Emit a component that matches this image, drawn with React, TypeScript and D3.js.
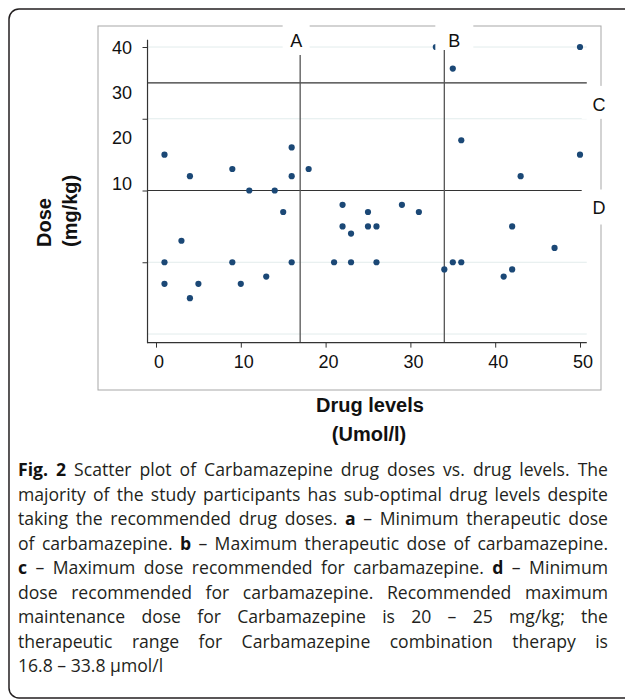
import React, { useEffect, useRef } from 'react';
import * as d3 from 'd3';

// drug level (Umol/l) and dose for every participant
const drugLevels = [1, 4, 9, 11, 14, 16, 16, 18, 33, 50, 35, 36, 50, 43, 15, 3, 1, 9, 16, 21, 1, 5, 10, 13, 4, 22, 22, 23, 23, 25, 25, 26, 29, 31, 26, 34, 35, 36, 42, 47, 41, 42];
const doses = [25, 22, 23, 20, 20, 26, 22, 23, 40, 40, 37, 27, 25, 22, 17, 13, 10, 10, 10, 10, 7, 7, 7, 8, 5, 18, 15, 14, 10, 17, 15, 15, 18, 17, 10, 9, 10, 10, 15, 12, 8, 9];

const xTicks = [0, 10, 20, 30, 40, 50];
const yTicks = [10, 20, 30, 40];
const gridValues = [0, 10, 30, 40];
const yTickLabels = [40, 30, 20, 10];

const vLines = [
  { label: 'A', value: 17 },
  { label: 'B', value: 34 },
];
const hLines = [
  { label: 'C', value: 35 },
  { label: 'D', value: 20 },
];

const captionLines: [string, boolean][][] = [
  [['Fig. 2', true], [' Scatter plot of Carbamazepine drug doses vs. drug levels. The', false]],
  [['majority of the study participants has sub-optimal drug levels despite', false]],
  [['taking the recommended drug doses. ', false], ['a', true], [' – Minimum therapeutic dose', false]],
  [['of carbamazepine. ', false], ['b', true], [' – Maximum therapeutic dose of carbamazepine.', false]],
  [['c', true], [' – Maximum dose recommended for carbamazepine. ', false], ['d', true], [' – Minimum', false]],
  [['dose recommended for carbamazepine. Recommended maximum', false]],
  [['maintenance dose for Carbamazepine is 20 – 25 mg/kg; the', false]],
  [['therapeutic range for Carbamazepine combination therapy is', false]],
  [['16.8 – 33.8 µmol/l', false]],
];

const W = 625;
const H = 699;

const App: React.FC = () => {
  const ref = useRef<SVGSVGElement | null>(null);

  useEffect(() => {
    if (!ref.current) return;
    const svg = d3.select(ref.current);
    svg.selectAll('*').remove();

    const font = '"Liberation Sans", Arial, Helvetica, sans-serif';
    const x = d3.scaleLinear().domain([0, 50]).range([156, 580]);
    const y = d3.scaleLinear().domain([0, 40]).range([334, 47]);
    // the printed y labels do not sit on the ticks in the original figure
    const yLab = d3.scaleLinear().domain([10, 40]).range([183, 47]);

    const x0 = x(-1);
    const x1 = x(50.8);
    const yBottom = y(-1.2);
    const yTop = y(41);

    svg.append('rect').attr('width', W).attr('height', H).attr('fill', '#fff');

    // outer rounded frame
    svg.append('rect')
      .attr('x', 9).attr('y', 9).attr('width', 700).attr('height', 689)
      .attr('rx', 10)
      .attr('fill', 'none').attr('stroke', '#231f20').attr('stroke-width', 1.5);

    // inner graph frame
    svg.append('rect')
      .attr('x', 98).attr('y', 26).attr('width', 503).attr('height', 364)
      .attr('fill', 'none').attr('stroke', '#a7a7a7').attr('stroke-width', 1);

    const plot = svg.append('g');

    plot.selectAll('.grid')
      .data(gridValues)
      .enter()
      .append('line')
      .attr('x1', x0).attr('x2', x1)
      .attr('y1', d => y(d)).attr('y2', d => y(d))
      .attr('stroke', '#e2ecec').attr('stroke-width', 1);

    plot.selectAll('.hline')
      .data(hLines)
      .enter()
      .append('line')
      .attr('x1', x0).attr('x2', x1)
      .attr('y1', d => y(d.value)).attr('y2', d => y(d.value))
      .attr('stroke', '#333').attr('stroke-width', 1.1);

    plot.selectAll('.vline')
      .data(vLines)
      .enter()
      .append('line')
      .attr('x1', d => x(d.value)).attr('x2', d => x(d.value))
      .attr('y1', yBottom).attr('y2', yTop)
      .attr('stroke', '#555').attr('stroke-width', 1.3);

    // axes
    const xAxis = plot.append('g')
      .attr('transform', `translate(0, ${yBottom})`)
      .call(d3.axisBottom(x).tickValues(xTicks).tickSize(5).tickFormat(() => ''));
    xAxis.select('.domain').remove();
    xAxis.selectAll('line').attr('stroke', '#333');
    plot.append('line')
      .attr('x1', x0).attr('x2', x1).attr('y1', yBottom).attr('y2', yBottom)
      .attr('stroke', '#333').attr('stroke-width', 1.2);

    const yAxis = plot.append('g')
      .attr('transform', `translate(${x0}, 0)`)
      .call(d3.axisLeft(y).tickValues(yTicks).tickSize(5).tickFormat(() => ''));
    yAxis.select('.domain').remove();
    yAxis.selectAll('line').attr('stroke', '#333');
    plot.append('line')
      .attr('x1', x0).attr('x2', x0).attr('y1', yBottom + 0.6).attr('y2', yTop)
      .attr('stroke', '#333').attr('stroke-width', 1.2);

    plot.selectAll('.xlab')
      .data(xTicks)
      .enter()
      .append('text')
      .attr('x', d => x(d) + 3)
      .attr('y', 368)
      .attr('text-anchor', 'middle')
      .style('font-family', font).style('font-size', '18px').style('fill', '#111')
      .text(d => d);

    plot.selectAll('.ylab')
      .data(yTickLabels)
      .enter()
      .append('text')
      .attr('x', 132)
      .attr('y', d => yLab(d) + 6.5)
      .attr('text-anchor', 'end')
      .style('font-family', font).style('font-size', '18px').style('fill', '#111')
      .text(d => d);

    // points
    const points = drugLevels.map((v, i) => ({ level: v, dose: doses[i] }));
    plot.selectAll('.dot')
      .data(points)
      .enter()
      .append('circle')
      .attr('cx', d => x(d.level))
      .attr('cy', d => y(d.dose))
      .attr('r', 3.1)
      .attr('fill', '#1b4876');

    // reference line labels on white patches
    const labelStyle = (sel: any) =>
      sel.style('font-family', font).style('font-size', '18px').style('fill', '#111').attr('text-anchor', 'middle');

    vLines.forEach((d, i) => {
      const cx = x(d.value) + (i === 0 ? -4 : 10);
      const half = i === 0 ? 13.5 : 19;
      svg.append('rect')
        .attr('x', cx - half).attr('y', 17)
        .attr('width', half * 2).attr('height', i === 0 ? 38 : 33)
        .attr('fill', '#fff');
      labelStyle(svg.append('text').attr('x', cx).attr('y', 46.5)).text(d.label);
    });

    hLines.forEach((d, i) => {
      const top = i === 0 ? y(d.value) + 3 : y(d.value) - 1;
      svg.append('rect')
        .attr('x', x(50.2)).attr('y', top)
        .attr('width', 40).attr('height', i === 0 ? 33 : 35)
        .attr('fill', '#fff');
      labelStyle(svg.append('text').attr('x', 599).attr('y', top + (i === 0 ? 25.5 : 24.5))).text(d.label);
    });

    // axis titles
    const titleStyle = (sel: any) =>
      sel.style('font-family', font).style('font-size', '20px').style('font-weight', 'bold').style('fill', '#111');
    titleStyle(svg.append('text').attr('transform', 'translate(51,247) rotate(-90)')).text('Dose');
    titleStyle(svg.append('text').attr('transform', 'translate(77,247) rotate(-90)')).text('(mg/kg)');
    titleStyle(svg.append('text').attr('x', 370).attr('y', 412).attr('text-anchor', 'middle')).text('Drug levels');
    titleStyle(svg.append('text').attr('x', 369).attr('y', 441).attr('text-anchor', 'middle')).text('(Umol/l)');

    // caption, justified by stretching the word spaces
    const cap = svg.append('g');
    const capWidth = 590;
    captionLines.forEach((segs, i) => {
      const t = cap.append('text')
        .attr('x', 18)
        .attr('y', 476 + i * 24.5)
        .style('font-family', '"Open Sans", "Noto Sans", sans-serif')
        .style('font-size', '17.6px')
        .style('fill', '#231f20');
      segs.forEach(([txt, bold]) => {
        t.append('tspan')
          .style('font-weight', bold ? 'bold' : 'normal')
          .style('fill', bold ? '#111' : '#231f20')
          .text(txt);
      });
      const node = t.node() as SVGTextElement;
      const natural = node.getComputedTextLength();
      const spaces = segs.map(s => s[0]).join('').split(' ').length - 1;
      if (i < captionLines.length - 1 && spaces > 0) {
        t.style('word-spacing', `${(capWidth - natural) / spaces}px`);
      }
    });
  }, []);

  return (
    <div style={{ position: 'absolute', left: 0, top: 0 }}>
      <svg ref={ref} width={W} height={H} style={{ display: 'block' }} />
    </div>
  );
};

export default App;
